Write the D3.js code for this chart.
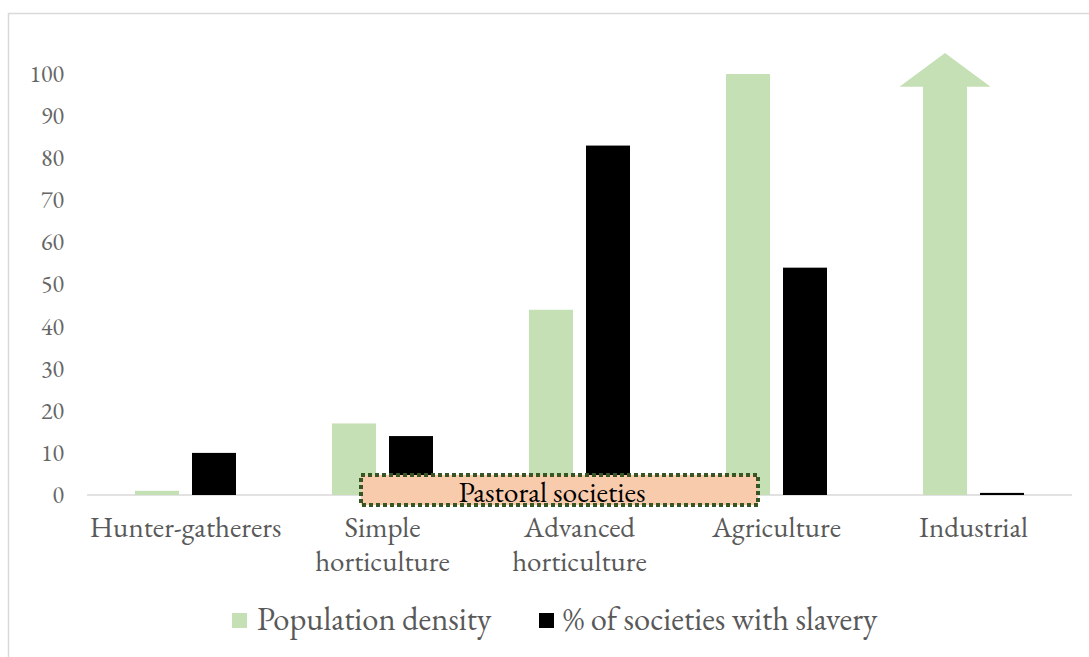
<!DOCTYPE html>
<html>
<head>
<meta charset="utf-8">
<script src="https://cdn.jsdelivr.net/npm/d3@7"></script>
<style>
  body { margin: 0; background: #fff; }
  svg { display: block; }
</style>
</head>
<body>
<div id="chart"></div>
<script>
// Categories (second line of a label after '|')
const categories = ['Hunter-gatherers', 'Simple|horticulture', 'Advanced|horticulture', 'Agriculture', 'Industrial'];
const populationDensity = [1, 17, 44, 100, 97];
const slaveryShare = [10, 14, 83, 54, 0.5];
const yTicks = [0, 10, 20, 30, 40, 50, 60, 70, 80, 90, 100];
const seriesNames = ['Population density', '% of societies with slavery'];
// the Industrial density bar is drawn as an arrow going off the scale
const arrowTip = 105;

const width = 1089, height = 657;
const font = '"EB Garamond", Garamond, "Liberation Serif", serif';
const green = '#c5e0b4';

const svg = d3.select('#chart').append('svg')
  .attr('width', width)
  .attr('height', height);

// chart area border
svg.append('rect')
  .attr('x', 8.5).attr('y', 13.5)
  .attr('width', 1090).attr('height', 660)
  .attr('fill', 'none')
  .attr('stroke', '#d9d9d9')
  .attr('stroke-width', 1.5);

const x = d3.scaleBand()
  .domain(categories)
  .range([87, 1072]);

const y = d3.scaleLinear()
  .domain([0, 100])
  .range([495, 74]);

// bar offsets inside a category band
const barW = 44;
const off = [48, 105];

// y axis labels
svg.append('g')
  .selectAll('text')
  .data(yTicks)
  .join('text')
    .attr('x', 64)
    .attr('y', d => y(d))
    .attr('dy', '0.33em')
    .attr('text-anchor', 'end')
    .attr('font-family', font)
    .attr('font-size', 24)
    .attr('fill', '#666')
    .text(d => d);

// baseline
svg.append('line')
  .attr('x1', 87).attr('x2', 1072)
  .attr('y1', y(0)).attr('y2', y(0))
  .attr('stroke', '#d9d9d9')
  .attr('stroke-width', 1.5);

const barsG = svg.append('g');

// population density bars (all but the arrow)
barsG.selectAll('.dens')
  .data(categories.map((c, i) => ({c, v: populationDensity[i]})).filter(d => d.c !== 'Industrial'))
  .join('rect')
    .attr('x', d => x(d.c) + off[0])
    .attr('y', d => y(d.v))
    .attr('width', barW)
    .attr('height', d => y(0) - y(d.v))
    .attr('fill', green);

// industrial arrow
{
  const i = categories.indexOf('Industrial');
  const x0 = x('Industrial') + off[0];
  const cx = x0 + barW / 2;
  const headHalf = 45.5;
  const shaftTop = y(populationDensity[i]);
  barsG.append('path')
    .attr('d', [
      `M${x0},${y(0)}`,
      `L${x0},${shaftTop}`,
      `L${cx - headHalf},${shaftTop}`,
      `L${cx},${y(arrowTip)}`,
      `L${cx + headHalf},${shaftTop}`,
      `L${x0 + barW},${shaftTop}`,
      `L${x0 + barW},${y(0)}`,
      'Z'
    ].join(' '))
    .attr('fill', green);
}

// slavery bars
barsG.selectAll('.slav')
  .data(categories.map((c, i) => ({c, v: slaveryShare[i]})))
  .join('rect')
    .attr('x', d => x(d.c) + off[1])
    .attr('y', d => y(d.v))
    .attr('width', barW)
    .attr('height', d => Math.max(1.5, y(0) - y(d.v)))
    .attr('fill', '#000');

// pastoral societies box
{
  const bx0 = x('Simple|horticulture') + 77;
  const bx1 = x('Agriculture') + 80;
  const g = svg.append('g');
  g.append('rect')
    .attr('x', bx0).attr('y', 475)
    .attr('width', bx1 - bx0).attr('height', 30)
    .attr('fill', '#f8cbad')
    .attr('stroke', '#375623')
    .attr('stroke-width', 4)
    .attr('stroke-dasharray', '4 3');
  g.append('text')
    .attr('x', 552)
    .attr('y', 502)
    .attr('text-anchor', 'middle')
    .attr('font-family', font)
    .attr('font-size', 29.5)
    .attr('fill', '#000')
    .text('Pastoral societies');
}

// category labels, one text per line
svg.append('g')
  .selectAll('g')
  .data(categories)
  .join('g')
    .each(function (d) {
      d3.select(this).selectAll('text')
        .data(d.split('|'))
        .join('text')
          .attr('x', x(d) + x.bandwidth() / 2)
          .attr('y', (l, j) => 537 + j * 34)
          .attr('text-anchor', 'middle')
          .attr('font-family', font)
          .attr('font-size', 29)
          .attr('fill', '#595959')
          .text(l => l);
    });

// legend
const legend = svg.append('g');
const legendItems = [
  {name: seriesNames[0], color: green, x: 232, tx: 257},
  {name: seriesNames[1], color: '#000', x: 539, tx: 563}
];
legendItems.forEach(it => {
  legend.append('rect')
    .attr('x', it.x).attr('y', 613)
    .attr('width', 15).attr('height', 15)
    .attr('fill', it.color);
  legend.append('text')
    .attr('x', it.tx).attr('y', 630)
    .attr('font-family', font)
    .attr('font-size', 32.5)
    .attr('fill', '#595959')
    .text(it.name);
});
</script>
</body>
</html>
